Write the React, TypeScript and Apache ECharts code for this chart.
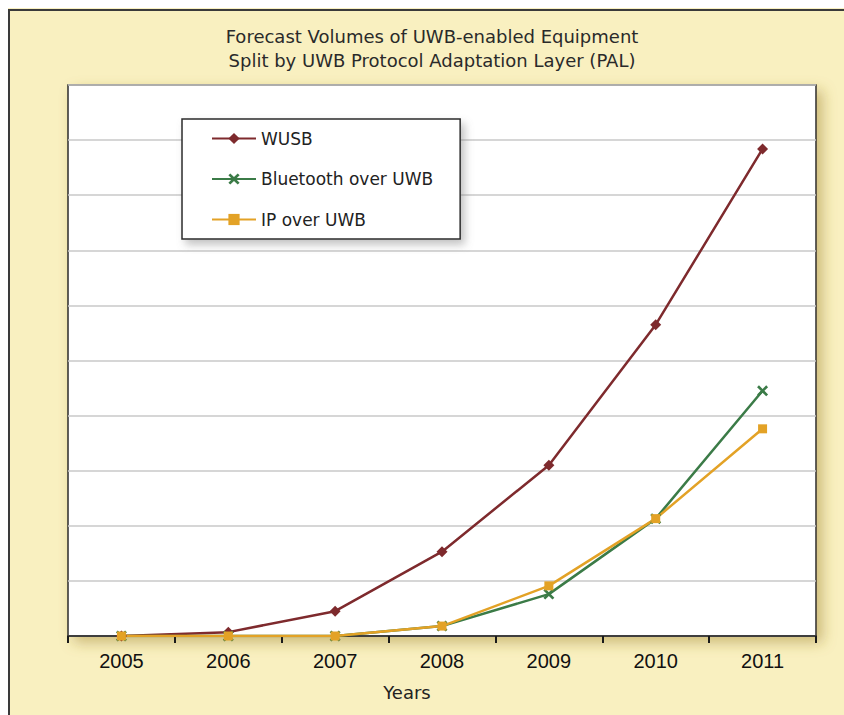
import React, { useEffect, useRef } from "react";
import * as echarts from "echarts";

const years = ["2005", "2006", "2007", "2008", "2009", "2010", "2011"];
const wusb = [0, 0.07, 0.45, 1.53, 3.1, 5.65, 8.84];
const bluetooth = [0, 0, 0, 0.18, 0.76, 2.13, 4.45];
const ipOverUwb = [0, 0, 0, 0.18, 0.91, 2.13, 3.76];
const seriesNames = ["WUSB", "Bluetooth over UWB", "IP over UWB"];
const titleLines = [
  "Forecast Volumes of UWB-enabled Equipment",
  "Split by UWB Protocol Adaptation Layer (PAL)",
];
const xAxisName = "Years";

const X_SYMBOL =
  "path://M0,1.7 L1.7,0 L5,3.3 L8.3,0 L10,1.7 L6.7,5 L10,8.3 L8.3,10 L5,6.7 L1.7,10 L0,8.3 L3.3,5 Z";

const COLORS = ["#7e2a2d", "#3b7b47", "#e3a226"];
const SANS = "'DejaVu Sans', Verdana, sans-serif";
const NARROW = "'Liberation Sans Narrow', 'Liberation Sans', Arial, sans-serif";

export default function App() {
  const ref = useRef<HTMLDivElement>(null);
  useEffect(() => {
    if (!ref.current) return;
    const chart = echarts.init(ref.current, undefined, { renderer: "svg" });
    chart.setOption({
      animation: false,
      backgroundColor: "#f9f0c0",
      title: {
        text: titleLines.join("\n"),
        left: 424,
        top: 16,
        textAlign: "center",
        padding: 0,
        textStyle: {
          fontFamily: SANS,
          fontSize: 18,
          lineHeight: 24,
          fontWeight: "normal",
          color: "#2a2a2a",
        },
      },
      graphic: [
        {
          type: "line",
          shape: { x1: 0, y1: 2, x2: 900, y2: 2 },
          style: { stroke: "#3a3a3a", lineWidth: 2 },
        },
        {
          type: "line",
          shape: { x1: 1, y1: 2, x2: 1, y2: 800 },
          style: { stroke: "#3a3a3a", lineWidth: 2 },
        },
      ],
      grid: {
        left: 60,
        right: 28,
        top: 77,
        bottom: 79,
        show: true,
        backgroundColor: "#ffffff",
        borderColor: "#2b2b2b",
        borderWidth: 1.5,
        shadowColor: "rgba(150,120,40,0.45)",
        shadowBlur: 14,
        shadowOffsetX: 6,
        shadowOffsetY: 6,
      },
      legend: {
        data: seriesNames,
        orient: "vertical",
        left: 174,
        top: 111,
        itemWidth: 44,
        itemHeight: 14,
        itemGap: 23.5,
        padding: [11, 27, 11, 29],
        backgroundColor: "#ffffff",
        borderColor: "#2b2b2b",
        borderWidth: 1.5,
        borderRadius: 0,
        shadowColor: "rgba(120,120,120,0.45)",
        shadowBlur: 8,
        shadowOffsetX: 4,
        shadowOffsetY: 5,
        textStyle: {
          fontFamily: SANS,
          fontSize: 17,
          color: "#222",
        },
      },
      xAxis: {
        type: "category",
        data: years,
        boundaryGap: true,
        name: xAxisName,
        nameLocation: "middle",
        nameGap: 47,
        nameTextStyle: {
          fontFamily: SANS,
          fontSize: 18,
          color: "#222",
          padding: [0, 70, 0, 0],
        },
        axisLine: { lineStyle: { color: "#1a1a1a", width: 1.5 } },
        axisTick: { show: true, length: 7, lineStyle: { color: "#1a1a1a", width: 2 } },
        axisLabel: {
          fontFamily: NARROW,
          fontSize: 20,
          color: "#111",
          margin: 15,
        },
        splitLine: { show: false },
      },
      yAxis: {
        type: "value",
        min: 0,
        max: 10,
        interval: 1,
        axisLabel: { show: false },
        axisLine: { show: false },
        axisTick: { show: false },
        splitLine: { lineStyle: { color: "#c8c8c8", width: 1.5 } },
      },
      series: [
        {
          name: seriesNames[0],
          type: "line",
          data: wusb,
          color: COLORS[0],
          symbol: "diamond",
          symbolSize: 11,
          lineStyle: { width: 2.5 },
        },
        {
          name: seriesNames[1],
          type: "line",
          data: bluetooth,
          color: COLORS[1],
          symbol: X_SYMBOL,
          symbolSize: 11,
          lineStyle: { width: 2.5 },
        },
        {
          name: seriesNames[2],
          type: "line",
          data: ipOverUwb,
          color: COLORS[2],
          symbol: "rect",
          symbolSize: 9,
          lineStyle: { width: 2.5 },
        },
      ],
    });
    return () => chart.dispose();
  }, []);
  return (
    <div
      ref={ref}
      style={{ position: "fixed", left: 8, top: 8, width: 836, height: 707 }}
    />
  );
}
